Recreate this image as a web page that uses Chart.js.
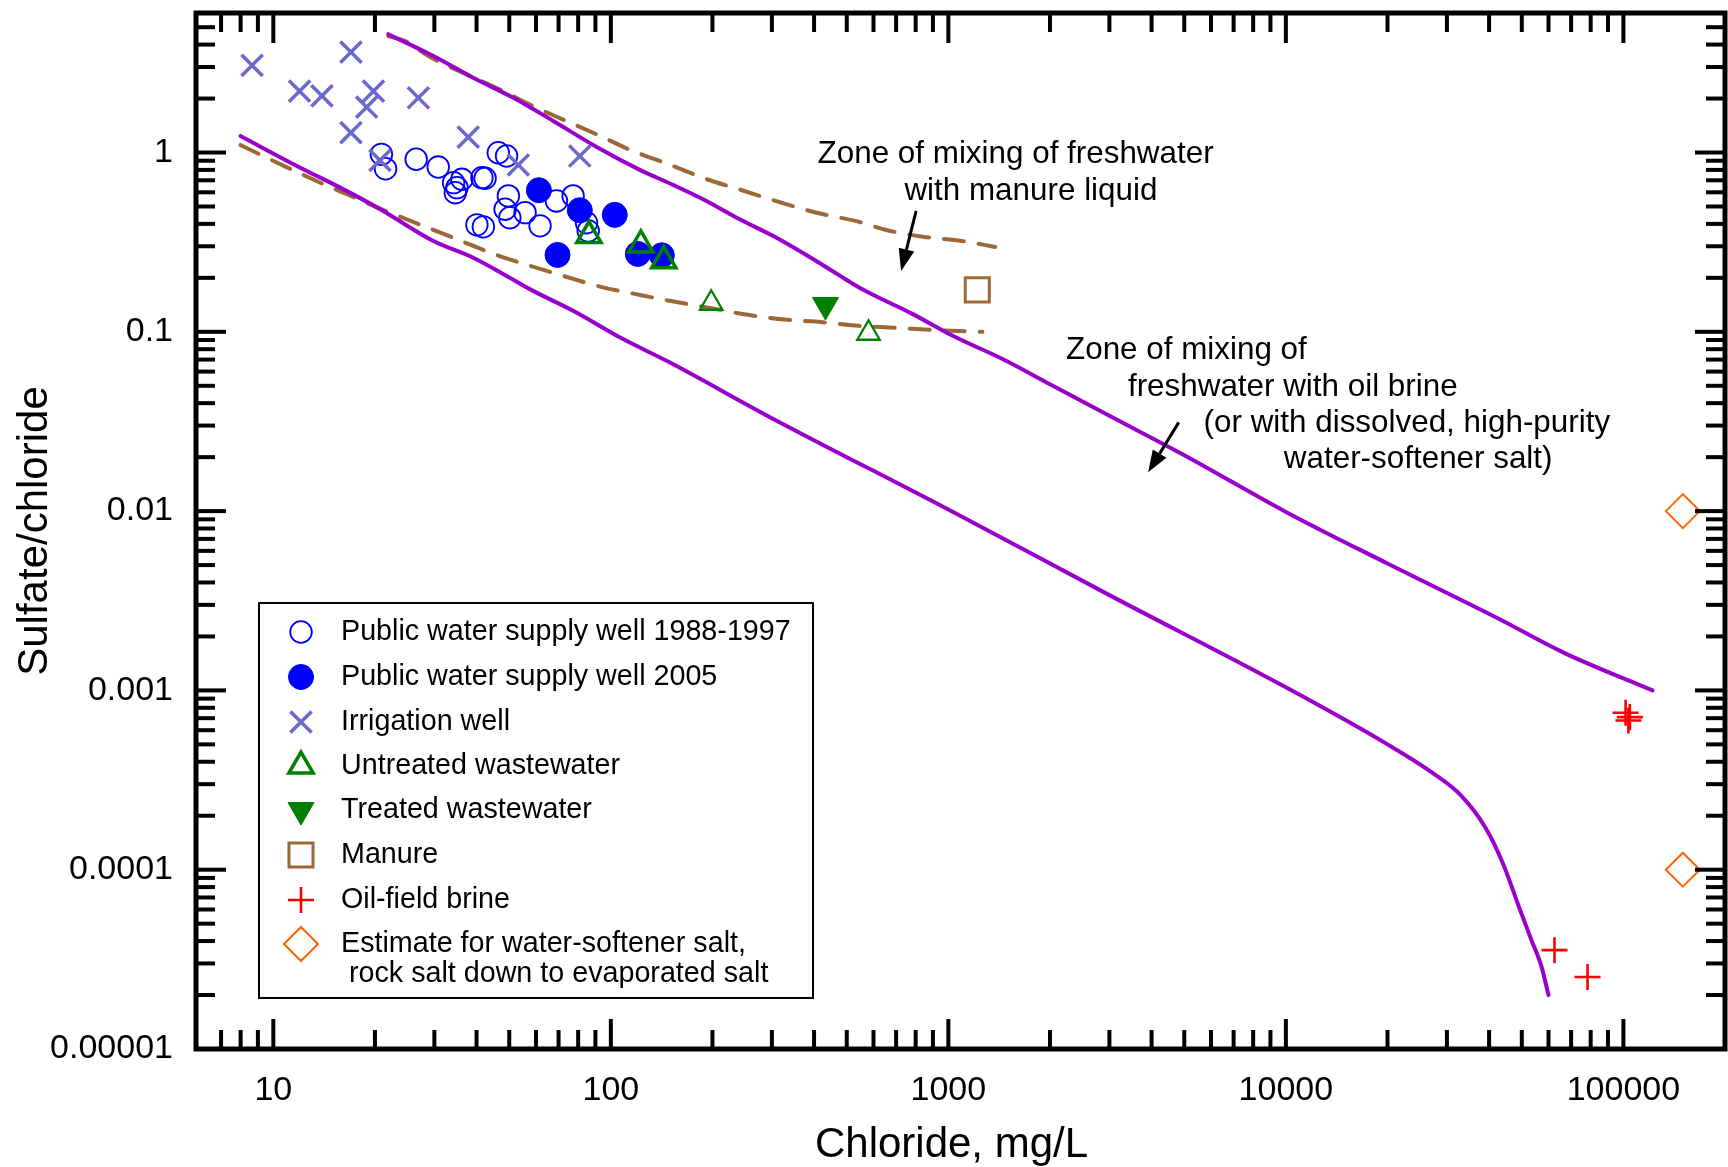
<!DOCTYPE html>
<html>
<head>
<meta charset="utf-8">
<script src="https://cdn.jsdelivr.net/npm/chart.js@4.4.1/dist/chart.umd.min.js"></script>
<style>
html,body{margin:0;padding:0;background:#fff;}
#wrap{width:1728px;height:1167px;position:relative;}
</style>
</head>
<body>
<div id="wrap"><canvas id="c" width="1728" height="1167"></canvas></div>
<script>
// ---------------- DATA ----------------
const xTickValues = [10, 100, 1000, 10000, 100000];
const xTickLabels = ['10', '100', '1000', '10000', '100000'];
const yTickValues = [0.00001, 0.0001, 0.001, 0.01, 0.1, 1];
const yTickLabels = ['0.00001', '0.0001', '0.001', '0.01', '0.1', '1'];
const xAxisTitle = 'Chloride, mg/L';
const yAxisTitle = 'Sulfate/chloride';

const pwsOldCl    = [20.9, 21.5, 26.5, 30.8, 34.2, 35.0, 34.6, 36.2, 41.5, 42.4, 46.4, 49.1, 49.7, 48.6, 50.2, 55.7, 61.7, 40.1, 41.9, 69.0, 77.3, 84.7, 85.7];
const pwsOldRatio = [0.977, 0.812, 0.917, 0.830, 0.679, 0.637, 0.597, 0.709, 0.724, 0.718, 0.997, 0.956, 0.573, 0.483, 0.433, 0.462, 0.390, 0.395, 0.385, 0.537, 0.573, 0.406, 0.365];

const pws2005Cl    = [61.2, 80.9, 102.7, 69.5, 120.2, 141.6];
const pws2005Ratio = [0.616, 0.4765, 0.449, 0.2685, 0.272, 0.267];

const irrigationCl    = [8.65, 16.98, 11.96, 13.93, 19.8, 18.9, 26.9, 16.98, 37.8, 20.7, 53.2, 80.9];
const irrigationRatio = [3.06, 3.63, 2.20, 2.07, 2.20, 1.79, 2.02, 1.29, 1.22, 0.905, 0.852, 0.956];

const untreatedCl    = [86.1, 122.7, 143.5, 198.3, 580];
const untreatedRatio = [0.344, 0.305, 0.249, 0.1443, 0.0982];

const treatedCl    = [432.5];
const treatedRatio = [0.141];

const manureCl    = [1218];
const manureRatio = [0.1714];

const brineCl    = [101500, 103500, 104500, 62500, 78300];
const brineRatio = [0.00075, 0.00068, 0.00071, 0.0000356, 0.0000252];

const saltCl    = [150000, 150000];
const saltRatio = [0.01, 0.0001];

// mixing lines
const upperMixCl    = [21.9, 29.8, 39.1, 51.4, 67.5, 91.6, 121.9, 152.9, 191.9, 240.8, 302, 379.4, 470.4, 558, 784.4, 1030, 1447, 2000, 3000, 5000, 10000, 20000, 42700, 67200, 122000];
const upperMixRatio = [4.57, 3.45, 2.61, 2.02, 1.50, 1.063, 0.80, 0.66, 0.537, 0.424, 0.343, 0.268, 0.2090, 0.172, 0.1255, 0.095, 0.0705, 0.051, 0.034, 0.0205, 0.0099, 0.0051, 0.00251, 0.00161, 0.00100];

const lowerMixCl    = [7.99, 12.02, 15.78, 20.73, 29.8, 39.1, 49.1, 57.5, 77.3, 108.7, 146.3, 300, 1000, 3000, 10000, 20000, 27000, 33000, 39000, 44000, 48900, 53400, 57200, 60000];
const lowerMixRatio = [1.236, 0.823, 0.637, 0.483, 0.321, 0.259, 0.205, 0.173, 0.131, 0.0911, 0.0689, 0.033, 0.0102, 0.0034, 0.00104, 0.00050, 0.00035, 0.00026, 0.000172, 0.000108, 0.000063, 0.0000405, 0.0000288, 0.0000200];

const manureUpperCl    = [21.9, 24.87, 28.8, 37.0, 46.4, 58.7, 73.9, 90.7, 116.1, 150.2, 190.5, 244.6, 312.6, 401.5, 538, 654, 839.5, 1096, 1377];
const manureUpperRatio = [4.46, 4.14, 3.45, 2.75, 2.27, 1.816, 1.498, 1.263, 1.02, 0.852, 0.7145, 0.616, 0.532, 0.4645, 0.4127, 0.370, 0.339, 0.321, 0.2975];

const manureLowerCl    = [7.99, 10.61, 13.47, 16.98, 21.55, 27.35, 34.97, 44.4, 56.55, 72.4, 92.8, 119.1, 153.6, 198.6, 254.8, 327.3, 422.5, 542.4, 711, 914, 1261];
const manureLowerRatio = [1.101, 0.852, 0.691, 0.572, 0.472, 0.3946, 0.3285, 0.2745, 0.236, 0.205, 0.1788, 0.162, 0.1475, 0.1355, 0.1244, 0.117, 0.1132, 0.108, 0.105, 0.1022, 0.100];

const legendLabels = [
  ['Public water supply well 1988-1997'],
  ['Public water supply well 2005'],
  ['Irrigation well'],
  ['Untreated wastewater'],
  ['Treated wastewater'],
  ['Manure'],
  ['Oil-field brine'],
  ['Estimate for water-softener salt,', ' rock salt down to evaporated salt']
];

const annotations = [
  {text: 'Zone of mixing of freshwater', cl: 409.7, r: 0.975},
  {text: 'with manure liquid', cl: 741, r: 0.607},
  {text: 'Zone of mixing of', cl: 2231, r: 0.0784},
  {text: 'freshwater with oil brine', cl: 3404, r: 0.0492},
  {text: '(or with dissolved, high-purity', cl: 5705, r: 0.0308},
  {text: 'water-softener salt)', cl: 9863, r: 0.0194}
];
const arrows = [
  {from: [802.6, 0.472], to: [724.4, 0.2186]},
  {from: [4814, 0.03125], to: [3907, 0.01645]}
];

// ---------------- CHART ----------------
const FONT = "'Liberation Sans', Arial, Helvetica, sans-serif";
const pts = (xs, ys) => xs.map((v, i) => ({x: v, y: ys[i]}));
const NONE = 'rgba(0,0,0,0)';
const PURPLE = '#9900CC', BROWN = '#9C6836', BLUE = '#0000FF', SLATE = '#6A6ACC', GREEN = '#008000', RED = '#FF0000', ORANGE = '#FF6600';

const lineDs = (label, xs, ys, color, dash) => ({
  label, data: pts(xs, ys), showLine: true, pointRadius: 0, borderColor: color, backgroundColor: color,
  borderWidth: 4, borderDash: dash || [], cubicInterpolationMode: 'monotone', order: 50, isLine: true, borderCapStyle: 'round'
});

const datasets = [
  lineDs('mix brine upper', upperMixCl, upperMixRatio, PURPLE),
  lineDs('mix brine lower', lowerMixCl, lowerMixRatio, PURPLE),
  lineDs('mix manure upper', manureUpperCl, manureUpperRatio, BROWN, [20, 15]),
  lineDs('mix manure lower', manureLowerCl, manureLowerRatio, BROWN, [20, 15]),
  {label: legendLabels[0], data: pts(pwsOldCl, pwsOldRatio), pointStyle: 'circle', pointRadius: 10.8, borderWidth: 1.8, borderColor: BLUE, backgroundColor: NONE, order: 9},
  {label: legendLabels[1], data: pts(pws2005Cl, pws2005Ratio), pointStyle: 'circle', pointRadius: 12.5, borderWidth: 1, borderColor: BLUE, backgroundColor: BLUE, order: 8},
  {label: legendLabels[2], data: pts(irrigationCl, irrigationRatio), pointStyle: 'crossRot', pointRadius: 15, borderWidth: 3.5, borderColor: SLATE, backgroundColor: SLATE, order: 7},
  {label: legendLabels[3], data: pts(untreatedCl, untreatedRatio), pointStyle: 'triangle', pointRadius: [14, 14, 14, 13, 13], borderWidth: [3.5, 3.5, 3.5, 2.3, 2.3], borderColor: GREEN, backgroundColor: NONE, order: 6},
  {label: legendLabels[4], data: pts(treatedCl, treatedRatio), pointStyle: 'triangle', pointRotation: 180, pointRadius: 15, borderWidth: 1, borderColor: GREEN, backgroundColor: GREEN, order: 5},
  {label: legendLabels[5], data: pts(manureCl, manureRatio), pointStyle: 'rect', pointRadius: 17, borderWidth: 3, borderColor: BROWN, backgroundColor: NONE, order: 4},
  {label: legendLabels[6], data: pts(brineCl, brineRatio), pointStyle: 'cross', pointRadius: 13, borderWidth: 2.6, borderColor: RED, backgroundColor: RED, order: 3},
  {label: legendLabels[7], data: pts(saltCl, saltRatio), pointStyle: 'rectRot', pointRadius: 17, borderWidth: 2, borderColor: ORANGE, backgroundColor: NONE, order: 2}
];

function drawMarker(ctx, ds, x, y) {
  const r = Array.isArray(ds.pointRadius) ? ds.pointRadius[0] : ds.pointRadius;
  const bw = Array.isArray(ds.borderWidth) ? ds.borderWidth[0] : ds.borderWidth;
  ctx.save();
  ctx.translate(x, y);
  if (ds.pointRotation) ctx.rotate(ds.pointRotation * Math.PI / 180);
  ctx.lineWidth = bw; ctx.strokeStyle = ds.borderColor; ctx.fillStyle = ds.backgroundColor;
  ctx.beginPath();
  const s = ds.pointStyle;
  if (s === 'circle') { ctx.arc(0, 0, r, 0, Math.PI * 2); ctx.fill(); ctx.stroke(); }
  else if (s === 'triangle') { ctx.moveTo(0, -r); ctx.lineTo(r * Math.sin(Math.PI * 2 / 3), r / 2); ctx.lineTo(-r * Math.sin(Math.PI * 2 / 3), r / 2); ctx.closePath(); ctx.fill(); ctx.stroke(); }
  else if (s === 'rect') { const h = r * Math.SQRT1_2; ctx.rect(-h, -h, 2 * h, 2 * h); ctx.fill(); ctx.stroke(); }
  else if (s === 'rectRot') { ctx.moveTo(-r, 0); ctx.lineTo(0, -r); ctx.lineTo(r, 0); ctx.lineTo(0, r); ctx.closePath(); ctx.fill(); ctx.stroke(); }
  else if (s === 'cross') { ctx.moveTo(-r, 0); ctx.lineTo(r, 0); ctx.moveTo(0, -r); ctx.lineTo(0, r); ctx.stroke(); }
  else if (s === 'crossRot') { const h = r * Math.SQRT1_2; ctx.moveTo(-h, -h); ctx.lineTo(h, h); ctx.moveTo(h, -h); ctx.lineTo(-h, h); ctx.stroke(); }
  ctx.restore();
}

const framePlugin = {
  id: 'frameTicks',
  afterDatasetsDraw(chart) {
    const {ctx, chartArea: a, scales: {x, y}} = chart;
    ctx.save();
    ctx.strokeStyle = '#000';
    ctx.lineWidth = 4;
    ctx.lineCap = 'butt';
    const seg = (x1, y1, x2, y2) => { ctx.beginPath(); ctx.moveTo(x1, y1); ctx.lineTo(x2, y2); ctx.stroke(); };
    for (let e = 0; e <= 5; e++) for (let m = 1; m <= 9; m++) {
      const v = m * Math.pow(10, e);
      const px = x.getPixelForValue(v);
      if (px < a.left + 4 || px > a.right - 4) continue;
      const len = m === 1 ? 30 : 19;
      seg(px, a.bottom, px, a.bottom - len);
      seg(px, a.top, px, a.top + len);
    }
    for (let e = -5; e <= 0; e++) for (let m = 1; m <= 9; m++) {
      const v = m * Math.pow(10, e);
      const py = y.getPixelForValue(v);
      if (py < a.top + 4 || py > a.bottom - 4) continue;
      const len = m === 1 ? 30 : 19;
      seg(a.left, py, a.left + len, py);
      seg(a.right, py, a.right - len, py);
    }
    ctx.lineWidth = 5;
    ctx.strokeRect(a.left, a.top, a.right - a.left, a.bottom - a.top);
    // x-axis title (slightly left of the plot centre, as in the original)
    ctx.fillStyle = '#000';
    ctx.font = '42px ' + FONT;
    ctx.textAlign = 'center';
    ctx.textBaseline = 'middle';
    ctx.fillText(xAxisTitle, (a.left + a.right) / 2 - 9, 1145);
    ctx.restore();
  }
};

const annotPlugin = {
  id: 'annot',
  afterDatasetsDraw(chart) {
    const {ctx, scales: {x, y}} = chart;
    ctx.save();
    ctx.fillStyle = '#000';
    ctx.font = '31.4px ' + FONT;
    ctx.textBaseline = 'middle';
    ctx.textAlign = 'left';
    annotations.forEach(a => {
      ctx.fillText(a.text, x.getPixelForValue(a.cl), y.getPixelForValue(a.r));
    });
    arrows.forEach(ar => {
      const x1 = x.getPixelForValue(ar.from[0]), y1 = y.getPixelForValue(ar.from[1]);
      const x2 = x.getPixelForValue(ar.to[0]), y2 = y.getPixelForValue(ar.to[1]);
      const ang = Math.atan2(y2 - y1, x2 - x1);
      const L = 22, W = 8;
      const bx = x2 - L * Math.cos(ang), by = y2 - L * Math.sin(ang);
      ctx.strokeStyle = '#000'; ctx.lineWidth = 3;
      ctx.beginPath(); ctx.moveTo(x1, y1); ctx.lineTo(bx, by); ctx.stroke();
      ctx.beginPath();
      ctx.moveTo(x2, y2);
      ctx.lineTo(bx + W * Math.sin(ang), by - W * Math.cos(ang));
      ctx.lineTo(bx - W * Math.sin(ang), by + W * Math.cos(ang));
      ctx.closePath(); ctx.fill();
    });
    ctx.restore();
  }
};

const legendPlugin = {
  id: 'boxLegend',
  afterDraw(chart) {
    const {ctx} = chart;
    const box = {l: 259, t: 603, r: 813, b: 998};
    const rows = [632, 677, 722, 766, 810, 855, 900, 944];
    ctx.save();
    ctx.fillStyle = '#fff';
    ctx.fillRect(box.l, box.t, box.r - box.l, box.b - box.t);
    ctx.strokeStyle = '#000'; ctx.lineWidth = 2;
    ctx.strokeRect(box.l, box.t, box.r - box.l, box.b - box.t);
    ctx.font = '28.7px ' + FONT;
    ctx.textBaseline = 'middle'; ctx.textAlign = 'left'; 
    const pointSets = chart.data.datasets.filter(d => !d.isLine);
    pointSets.forEach((ds, i) => {
      drawMarker(ctx, ds, 301, rows[i]);
      ctx.fillStyle = '#000';
      ds.label.forEach((t, k) => ctx.fillText(t, 341, rows[i] + k * 30));
    });
    ctx.restore();
  }
};

const noPad = s => { s.paddingTop = 0; s.paddingBottom = 0; s.paddingLeft = 0; s.paddingRight = 0; };

new Chart(document.getElementById('c'), {
  type: 'scatter',
  data: {datasets},
  options: {
    responsive: false,
    animation: false,
    devicePixelRatio: 1,
    events: [],
    layout: {autoPadding: false, padding: {top: 13, right: 3, left: 0, bottom: 0}},
    plugins: {legend: {display: false}, tooltip: {enabled: false}},
    scales: {
      x: {
        type: 'logarithmic', position: 'bottom', min: 5.9, max: 200000,
        afterFit: s => { s.height = 118; noPad(s); },
        afterBuildTicks: s => { s.ticks = xTickValues.map(v => ({value: v})); },
        grid: {display: false, drawTicks: false},
        border: {display: false},
        ticks: {autoSkip: false, maxRotation: 0, padding: 21, color: '#000', font: {family: FONT, size: 34},
          callback: v => { const i = xTickValues.indexOf(v); return i >= 0 ? xTickLabels[i] : ''; }},
        title: {display: false}
      },
      y: {
        type: 'logarithmic', position: 'left', min: 0.00001, max: 6,
        afterFit: s => { s.width = 196; noPad(s); },
        afterBuildTicks: s => { s.ticks = yTickValues.map(v => ({value: v})); },
        grid: {display: false, drawTicks: false},
        border: {display: false},
        ticks: {autoSkip: false, padding: 23, color: '#000', font: {family: FONT, size: 34},
          callback: v => { const i = yTickValues.findIndex(t => Math.abs(t - v) / t < 1e-6); return i >= 0 ? yTickLabels[i] : ''; }},
        title: {display: true, text: yAxisTitle, color: '#000', font: {family: FONT, size: 42, lineHeight: 1}, padding: {top: 14, bottom: 0}}
      }
    }
  },
  plugins: [framePlugin, annotPlugin, legendPlugin]
});
</script>
</body>
</html>
